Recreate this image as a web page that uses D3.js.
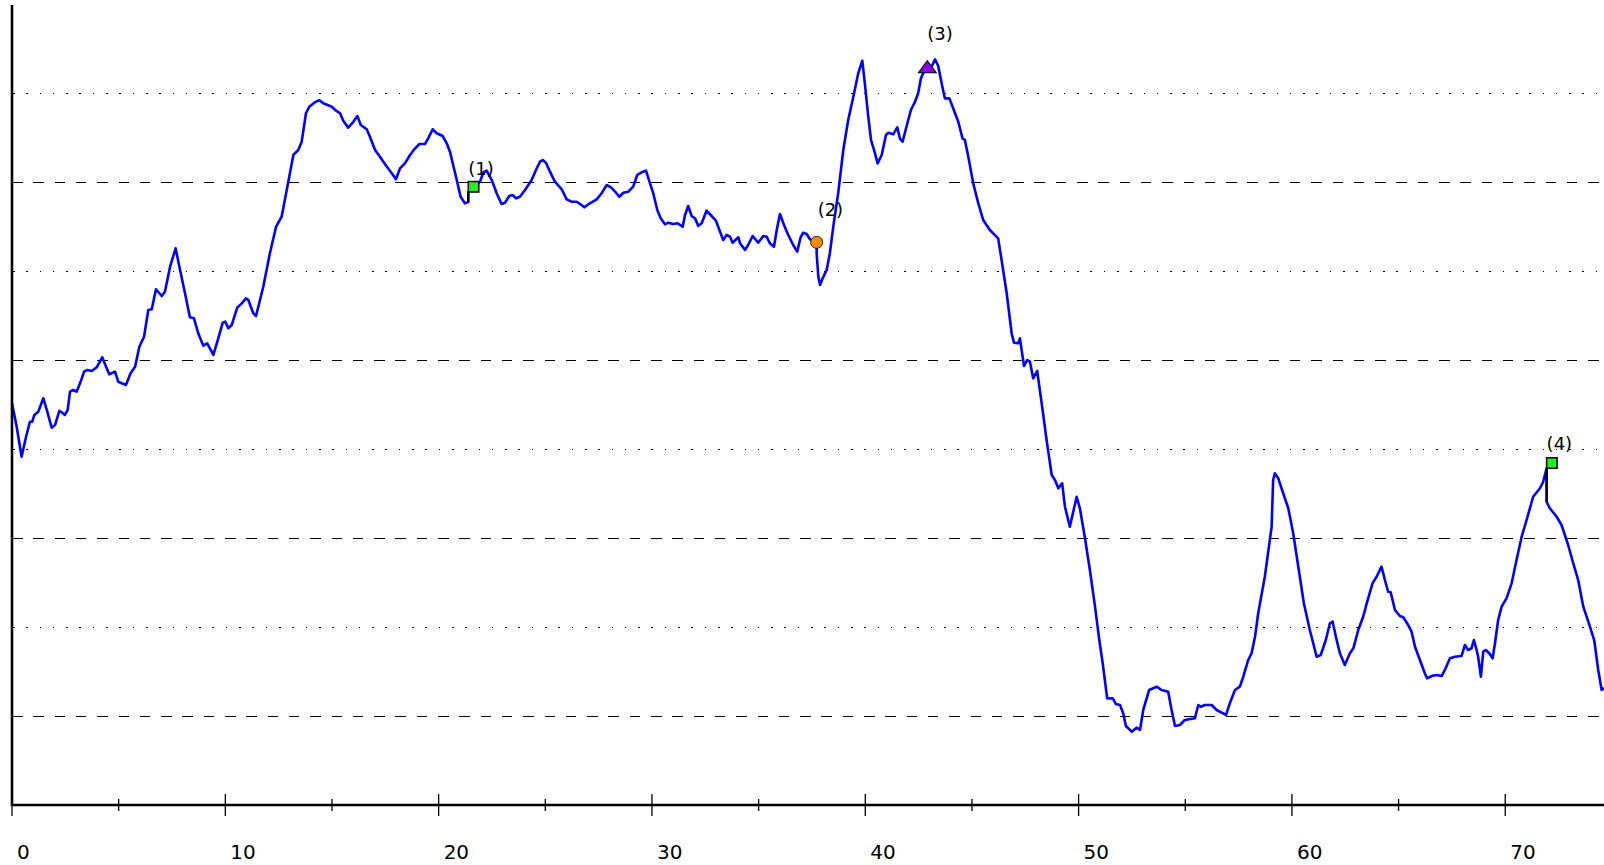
<!DOCTYPE html>
<html>
<head>
<meta charset="utf-8">
<script src="https://cdn.jsdelivr.net/npm/d3@7"></script>
<style>
  html, body { margin: 0; padding: 0; background: #ffffff; }
  svg { display: block; }
</style>
</head>
<body>
<svg id="chart" width="1604" height="865"></svg>
<script>
// ---------------- DATA ----------------
const distance = [
  0.00,0.22,0.45,0.66,0.84,0.95,1.05,1.23,1.47,1.63,1.86,2.02,2.22,2.33,2.48,2.61,2.72,2.87,3.03,3.19,
  3.38,3.53,3.74,3.97,4.23,4.41,4.56,4.83,4.98,5.34,5.56,5.77,5.97,6.19,6.39,6.55,6.75,7.02,7.17,7.41,
  7.67,7.88,8.11,8.34,8.53,8.73,8.97,9.15,9.44,9.67,9.88,10.00,10.14,10.30,10.56,10.77,10.97,11.08,11.31,11.44,
  11.78,12.09,12.38,12.64,12.88,13.19,13.42,13.58,13.78,13.94,14.17,14.40,14.59,14.99,15.19,15.38,15.53,15.76,15.97,16.19,
  16.35,16.63,16.78,17.02,17.25,17.48,17.80,18.00,18.19,18.42,18.66,18.86,19.09,19.36,19.51,19.72,19.91,20.19,20.38,20.53,
  20.66,20.85,21.03,21.23,21.39,21.39,21.66,21.94,22.09,22.25,22.49,22.72,22.95,23.11,23.31,23.47,23.63,23.81,24.05,24.36,
  24.60,24.75,24.88,25.03,25.22,25.45,25.77,26.00,26.24,26.47,26.63,26.83,27.09,27.41,27.64,27.88,28.08,28.27,28.47,28.66,
  28.89,29.12,29.31,29.52,29.72,29.91,30.06,30.25,30.41,30.61,30.76,31.00,31.20,31.44,31.55,31.70,31.86,32.02,32.17,32.33,
  32.56,32.80,33.00,33.19,33.34,33.50,33.66,33.78,34.05,34.13,34.36,34.51,34.72,34.98,35.22,35.38,35.53,35.72,35.85,36.00,
  36.19,36.39,36.62,36.81,36.97,37.09,37.25,37.41,37.72,37.72,37.80,37.88,38.00,38.19,38.34,38.50,38.73,38.97,39.20,39.44,
  39.67,39.86,39.98,40.14,40.27,40.41,40.58,40.77,40.97,41.08,41.31,41.50,41.63,41.75,41.94,42.14,42.33,42.48,42.61,42.80,
  42.91,43.11,43.27,43.42,43.58,43.73,43.94,44.12,44.36,44.56,44.67,44.83,45.06,45.30,45.53,45.84,46.23,46.39,46.63,46.86,
  46.97,47.17,47.25,47.44,47.59,47.72,47.87,48.06,48.27,48.50,48.74,48.89,49.05,49.23,49.36,49.59,49.91,50.06,50.30,50.53,
  50.77,50.97,51.13,51.34,51.60,51.75,51.94,52.09,52.22,52.49,52.72,52.88,53.03,53.31,53.66,53.89,54.20,54.36,54.52,54.75,
  54.98,55.45,55.61,55.72,55.92,56.24,56.47,56.91,57.09,57.33,57.56,57.72,57.95,58.11,58.27,58.42,58.73,59.05,59.12,59.20,
  59.36,59.59,59.83,60.06,60.30,60.56,60.84,61.16,61.35,61.59,61.78,61.91,62.06,62.25,62.48,62.72,62.88,63.11,63.34,63.53,
  63.78,63.97,64.20,64.36,64.51,64.63,64.83,65.06,65.22,65.45,65.61,65.77,66.00,66.23,66.34,66.55,66.78,67.02,67.17,67.41,
  67.64,67.95,68.11,68.26,68.42,68.53,68.66,68.73,68.86,68.97,69.09,69.25,69.41,69.52,69.67,69.83,70.06,70.30,70.53,70.77,
  71.00,71.31,71.63,71.78,71.94,71.94,72.09,72.41,72.64,72.95,73.19,73.42,73.66,73.97,74.17,74.36,74.52,74.63
];
const value = [
  45.19,42.56,39.18,41.43,43.12,43.12,43.88,44.25,45.75,44.44,42.45,42.75,44.33,44.18,43.88,44.44,46.50,46.69,46.50,47.44,
  48.75,48.94,48.83,49.24,50.37,49.31,48.45,48.75,47.62,47.25,48.57,49.31,51.56,52.68,55.69,55.77,58.02,57.26,57.75,60.56,
  62.63,60.19,57.57,54.87,54.75,53.07,51.67,51.94,50.63,52.50,54.26,54.37,53.63,54.00,55.95,56.44,57.00,56.81,55.32,55.01,
  58.31,62.07,65.06,66.18,69.19,73.13,73.69,74.62,77.82,78.56,79.01,79.31,78.94,78.56,78.11,77.82,76.98,76.20,76.76,77.51,
  76.50,76.02,75.18,73.69,72.93,72.11,71.07,70.39,71.63,72.19,73.13,73.77,74.36,74.36,75.00,76.02,75.57,75.26,74.44,73.50,
  72.19,70.31,68.43,67.69,67.84,68.96,69.56,70.12,71.13,71.36,70.31,68.82,67.61,67.76,68.51,68.63,68.25,68.43,69.19,70.31,
  71.63,72.37,72.56,72.26,71.25,70.12,69.27,68.14,67.87,67.87,67.61,67.24,67.69,68.14,68.82,69.75,69.49,69.00,68.43,68.88,
  69.00,69.56,70.88,71.18,71.36,69.94,68.82,66.94,66.00,65.33,65.51,65.36,65.44,65.06,66.38,67.39,66.26,66.00,65.14,65.44,
  66.86,66.26,65.73,64.50,63.56,64.13,63.93,63.26,63.87,63.19,62.44,63.00,64.01,63.26,64.01,63.93,63.19,62.81,64.69,66.49,
  65.25,64.13,63.00,62.25,63.87,64.38,64.24,63.64,63.30,62.07,59.43,58.50,59.25,60.19,62.07,65.06,68.82,73.69,77.06,79.68,
  82.32,83.73,81.19,77.43,74.81,73.69,72.19,73.13,75.38,75.63,75.45,76.24,74.93,74.62,76.39,78.19,79.12,80.07,81.75,82.77,
  83.06,83.06,83.89,83.14,81.19,79.50,79.50,78.38,76.87,75.00,74.81,72.93,69.94,67.69,65.81,64.69,63.75,61.31,57.57,53.07,
  52.01,51.94,52.50,49.39,50.06,49.87,48.00,48.83,45.19,41.06,37.13,36.56,35.63,36.19,33.56,31.31,34.68,33.38,30.00,26.44,
  22.31,18.56,15.94,12.00,12.00,11.36,11.25,10.32,8.89,8.25,8.70,8.44,10.69,12.94,13.31,12.94,12.75,10.69,8.89,9.00,
  9.56,9.75,11.25,11.06,11.25,11.25,10.69,10.13,11.44,12.94,13.31,14.43,16.31,17.07,18.93,21.57,25.68,31.31,36.56,37.32,
  36.75,35.07,33.38,30.57,26.81,22.69,19.69,16.68,16.88,18.56,20.44,20.62,18.93,17.07,15.75,17.07,17.63,19.69,21.18,22.87,
  24.94,25.68,26.81,25.31,24.00,23.93,21.94,21.26,21.12,20.25,19.50,17.81,16.31,14.82,14.25,14.51,14.63,14.51,15.19,16.50,
  16.68,16.76,18.00,17.44,17.63,18.56,17.44,16.68,14.43,17.25,17.44,17.07,16.50,18.19,20.81,22.31,23.25,24.94,27.56,30.18,
  32.06,34.68,35.63,36.37,37.88,34.12,33.38,32.43,31.50,29.25,27.19,25.31,22.31,20.06,18.56,15.19,12.94,13.16
];

// annotated points
const markerX      = [21.39, 37.72, 42.91, 71.94];
const markerY      = [68.96, 63.30, 82.38, 37.88];
const markerShape  = ["flag", "circle", "triangle", "flag"];
const markerLabel  = ["(1)", "(2)", "(3)", "(4)"];
const markerStemTo = [67.84, null, null, 34.12];

const majorTicks = [0, 10, 20, 30, 40, 50, 60, 70];
const minorTicks = [5, 15, 25, 35, 45, 55, 65];
const tickLabels = ["0", "10", "20", "30", "40", "50", "60", "70"];
const gridDashed = [10, 30, 50, 70];
const gridDotted = [20, 40, 60, 80];

// ---------------- LAYOUT ----------------
const plotL = 12, plotR = 1604, plotT = 5, plotB = 805;
const labelOffset = [[0, -17], [1, -26], [0, -33], [0, -18]];

const xScale = d3.scaleLinear().domain([0, 74.63]).range([plotL, plotR]);
const yScale = d3.scaleLinear().domain([0, 90]).range([plotB, plotT]);

const svg = d3.select("#chart");

// grid
svg.append("g").selectAll("line").data(gridDashed).join("line")
  .attr("x1", plotL).attr("x2", plotR)
  .attr("y1", d => yScale(d)).attr("y2", d => yScale(d))
  .attr("stroke", "#000").attr("stroke-width", 1.1)
  .attr("stroke-dasharray", "10.5,10.8")
  .attr("shape-rendering", "crispEdges");
svg.append("g").selectAll("line").data(gridDotted).join("line")
  .attr("x1", plotL + 1).attr("x2", plotR)
  .attr("y1", d => yScale(d)).attr("y2", d => yScale(d))
  .attr("stroke", "#000").attr("stroke-width", 1.1)
  .attr("stroke-dasharray", "1.6,11.7")
  .attr("shape-rendering", "crispEdges");

// line
const pts = distance.map((d, i) => [d, value[i]]);
svg.append("path")
  .datum(pts)
  .attr("fill", "none")
  .attr("stroke", "#0000ff")
  .attr("stroke-width", 2.6)
  .attr("stroke-linejoin", "round")
  .attr("d", d3.line().x(d => xScale(d[0])).y(d => yScale(d[1])));

// axes
svg.append("line").attr("x1", plotL).attr("x2", plotL).attr("y1", plotT).attr("y2", plotB + 1)
  .attr("stroke", "#000").attr("stroke-width", 2.6);
svg.append("line").attr("x1", plotL).attr("x2", plotR).attr("y1", plotB).attr("y2", plotB)
  .attr("stroke", "#000").attr("stroke-width", 2.6);

svg.append("g").selectAll("line").data(majorTicks).join("line")
  .attr("x1", d => xScale(d)).attr("x2", d => xScale(d))
  .attr("y1", plotB - 11).attr("y2", plotB + 11)
  .attr("stroke", "#000").attr("stroke-width", 1.3);
svg.append("g").selectAll("line").data(minorTicks).join("line")
  .attr("x1", d => xScale(d)).attr("x2", d => xScale(d))
  .attr("y1", plotB - 6).attr("y2", plotB + 6)
  .attr("stroke", "#000").attr("stroke-width", 1.3);

svg.append("g").selectAll("text").data(majorTicks).join("text")
  .attr("x", d => xScale(d) + 5)
  .attr("y", 859)
  .attr("font-family", "DejaVu Sans")
  .attr("font-size", 20)
  .attr("fill", "#000")
  .text((d, i) => tickLabels[i]);

// markers
const mg = svg.append("g");
markerX.forEach((mx, i) => {
  const px = xScale(mx), py = yScale(markerY[i]);
  const shape = markerShape[i];
  if (shape === "flag") {
    if (markerStemTo[i] !== null) {
      mg.append("line").attr("x1", px).attr("x2", px)
        .attr("y1", py).attr("y2", yScale(markerStemTo[i]))
        .attr("stroke", "#000").attr("stroke-width", 2);
    }
    mg.append("rect").attr("x", px).attr("y", py - 10.5)
      .attr("width", 10.5).attr("height", 10.5)
      .attr("fill", "#22ee22").attr("stroke", "#000").attr("stroke-width", 1.5);
  } else if (shape === "circle") {
    mg.append("circle").attr("cx", px).attr("cy", py).attr("r", 6)
      .attr("fill", "#ff8c00").attr("stroke", "#222").attr("stroke-width", 1);
  } else if (shape === "triangle") {
    mg.append("path")
      .attr("d", `M${px - 8.8},${py} L${px + 8.8},${py} L${px},${py - 12} Z`)
      .attr("fill", "#8a00ea").attr("stroke", "#000").attr("stroke-width", 1.2);
  }
  mg.append("text")
    .attr("x", px + labelOffset[i][0])
    .attr("y", py + labelOffset[i][1])
    .attr("font-family", "DejaVu Sans")
    .attr("font-size", 18)
    .attr("fill", "#000")
    .text(markerLabel[i]);
});
</script>
</body>
</html>
